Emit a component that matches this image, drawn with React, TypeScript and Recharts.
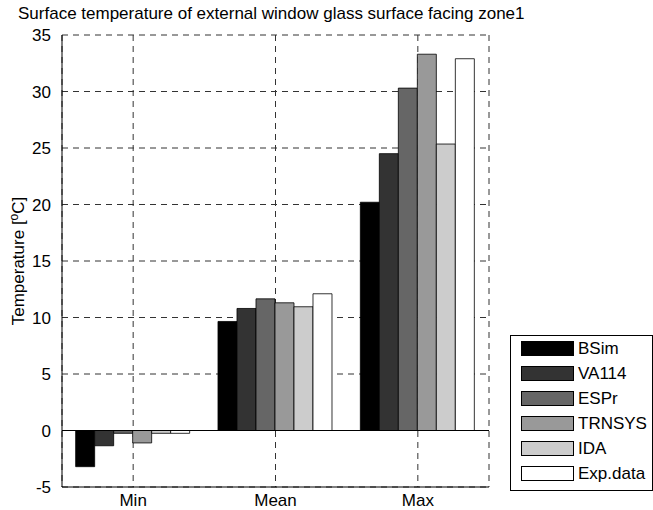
import { BarChart, Bar, XAxis, YAxis, CartesianGrid, ReferenceLine } from 'recharts'

const categories = ['Min', 'Mean', 'Max']
const seriesNames = ['BSim', 'VA114', 'ESPr', 'TRNSYS', 'IDA', 'Exp.data']
const seriesColors = ['#000000', '#333333', '#666666', '#999999', '#cccccc', '#ffffff']

const bsim = [-3.2, 9.65, 20.2]
const va114 = [-1.35, 10.8, 24.5]
const espr = [-0.25, 11.65, 30.3]
const trnsys = [-1.1, 11.3, 33.3]
const ida = [-0.25, 10.95, 25.35]
const expData = [-0.25, 12.1, 32.9]

const yTicks = [-5, 0, 5, 10, 15, 20, 25, 30, 35]

const seriesValues = [bsim, va114, espr, trnsys, ida, expData]

const data = categories.map((c, i) => {
  const row: Record<string, string | number> = { name: c }
  seriesNames.forEach((s, j) => {
    row[s] = seriesValues[j][i]
  })
  return row
})

const font = '"Liberation Sans", Arial, sans-serif'

function YLabel({ viewBox }: any) {
  const cx = 24
  const cy = viewBox ? viewBox.y + viewBox.height / 2 : 261
  return (
    <text
      x={cx}
      y={cy}
      transform={`rotate(-90 ${cx} ${cy})`}
      textAnchor="middle"
      fontSize={17}
      fontFamily={font}
      fill="#000"
    >
      Temperature [
      <tspan dy={-6} fontSize={12}>o</tspan>
      <tspan dy={6}>C]</tspan>
    </text>
  )
}

function LegendBox() {
  return (
    <div
      style={{
        position: 'absolute',
        left: 510,
        top: 335,
        width: 141,
        height: 154,
        border: '1px solid #000',
        background: '#fff',
        fontFamily: font,
        fontSize: 17,
      }}
    >
      {seriesNames.map((s, i) => (
        <div
          key={s}
          style={{ position: 'absolute', left: 10, top: 4 + i * 25, height: 17, display: 'flex', alignItems: 'center' }}
        >
          <div
            style={{
              width: 51,
              height: 13,
              background: seriesColors[i],
              border: '1px solid #000',
            }}
          />
          <span style={{ marginLeft: 4, lineHeight: '17px' }}>{s}</span>
        </div>
      ))}
    </div>
  )
}

export default function App() {
  return (
    <div style={{ position: 'absolute', left: 0, top: 0, width: 653, height: 510, background: '#fff' }}>
      <div
        style={{
          position: 'absolute',
          left: 18,
          top: 4,
          fontFamily: font,
          fontSize: 17,
          color: '#000',
          whiteSpace: 'nowrap',
        }}
      >
        Surface temperature of external window glass surface facing zone1
      </div>
      <BarChart
        width={653}
        height={510}
        data={data}
        margin={{ top: 35, right: 164, bottom: 0, left: 0 }}
        barCategoryGap="9.6%"
        barGap={0}
      >
        <CartesianGrid stroke="#333" strokeDasharray="6 5" />
        <XAxis
          dataKey="name"
          height={23}
          axisLine={{ stroke: '#000' }}
          tickLine={false}
          tick={{ fill: '#000', fontSize: 17, fontFamily: font }}
          tickMargin={1}
        />
        <XAxis xAxisId="top" orientation="top" dataKey="name" height={0} tick={false} tickLine={false} axisLine={{ stroke: '#000' }} />
        <YAxis
          width={62}
          domain={[-5, 35]}
          ticks={yTicks}
          interval={0}
          allowDataOverflow
          axisLine={{ stroke: '#000' }}
          tickLine={false}
          tick={{ fill: '#000', fontSize: 17, fontFamily: font }}
          tickMargin={5}
          label={<YLabel />}
        />
        <YAxis yAxisId="right" orientation="right" width={0} domain={[-5, 35]} tick={false} tickLine={false} axisLine={{ stroke: '#000' }} />
        {seriesNames.map((s, i) => (
          <Bar key={s} dataKey={s} fill={seriesColors[i]} stroke="#000" strokeWidth={0.8} isAnimationActive={false} />
        ))}
        <ReferenceLine y={0} stroke="#000" />
      </BarChart>
      <LegendBox />
    </div>
  )
}
